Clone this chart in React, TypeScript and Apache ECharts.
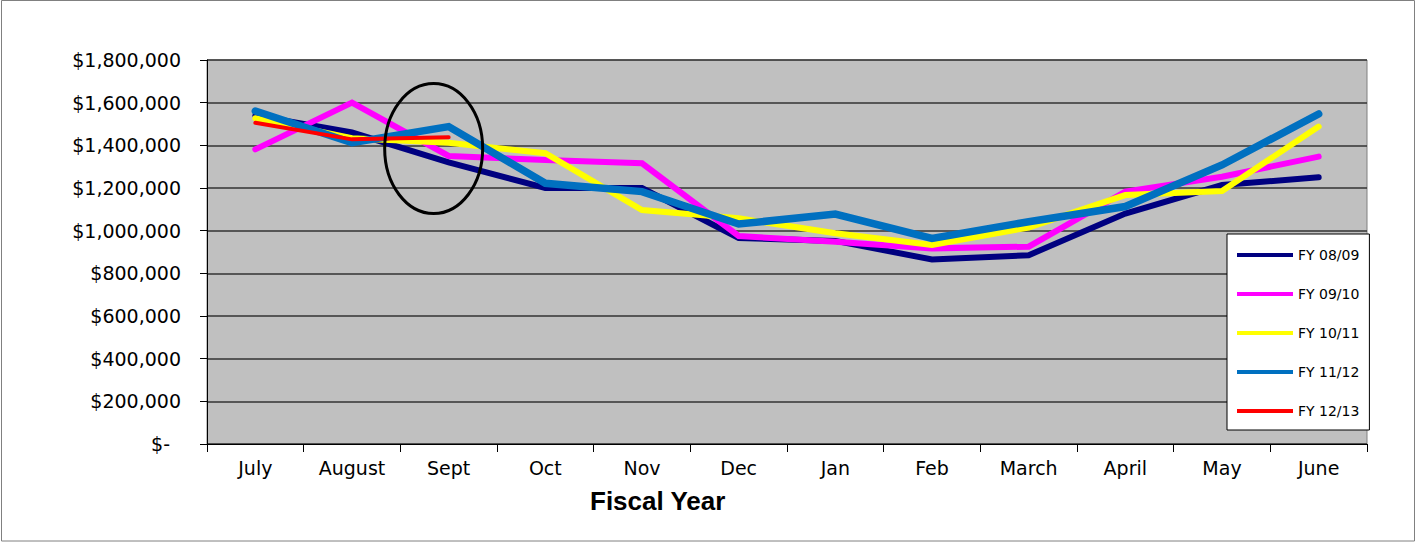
import React, { useEffect, useRef } from "react";
import * as echarts from "echarts";

const months = ["July", "August", "Sept", "Oct", "Nov", "Dec", "Jan", "Feb", "March", "April", "May", "June"];
const fy0809 = [1540000, 1460000, 1320000, 1200000, 1200000, 966000, 952000, 865000, 885000, 1080000, 1214000, 1250000];
const fy0910 = [1381000, 1600000, 1350000, 1331000, 1316000, 975000, 948000, 917000, 925000, 1183000, 1253000, 1347000];
const fy1011 = [1527000, 1433000, 1412000, 1363000, 1097000, 1058000, 988000, 933000, 1015000, 1167000, 1186000, 1488000];
const fy1112 = [1561000, 1412000, 1488000, 1222000, 1183000, 1031000, 1078000, 964000, 1042000, 1113000, 1308000, 1547000];
const fy1213 = [1506000, 1428000, 1438000];
const seriesNames = ["FY 08/09", "FY 09/10", "FY 10/11", "FY 11/12", "FY 12/13"];
const yTicks = { min: 0, max: 1800000, interval: 200000 };

const fmtMoney = (v: number) => {
  if (v === 0) return "{z|$-}";
  return "$" + v.toLocaleString("en-US");
};

export default function App() {
  const ref = useRef<HTMLDivElement>(null);
  useEffect(() => {
    document.body.style.margin = "0";
    if (!ref.current) return;
    const chart = echarts.init(ref.current, null, { renderer: "svg" });
    const font = "DejaVu Sans";
    const mk = (name: string, data: number[], color: string, width: number, z: number) => ({
      name,
      type: "line",
      data,
      symbol: "none",
      z,
      lineStyle: { color, width, cap: "round", join: "miter" },
      itemStyle: { color },
    });
    chart.setOption({
      animation: false,
      backgroundColor: "#ffffff",
      grid: {
        left: 207,
        right: 49,
        top: 60,
        bottom: 99,
        show: true,
        backgroundColor: "#C0C0C0",
        borderColor: "#808080",
        borderWidth: 1,
      },
      legend: {
        orient: "vertical",
        left: 1227,
        top: 234,
        icon: "rect",
        itemWidth: 56,
        itemHeight: 4,
        itemGap: 25,
        padding: [14, 10, 12, 10],
        backgroundColor: "#ffffff",
        borderColor: "#000000",
        borderWidth: 1,
        borderRadius: 0,
        textStyle: { fontFamily: font, fontSize: 14, color: "#000", lineHeight: 14 },
        data: seriesNames,
      },
      xAxis: {
        type: "category",
        data: months,
        boundaryGap: true,
        axisLine: { lineStyle: { color: "#000", width: 1 } },
        axisTick: { show: true, length: 8, lineStyle: { color: "#000" } },
        axisLabel: { fontFamily: font, fontSize: 19, color: "#000", margin: 14 },
        splitLine: { show: false },
      },
      yAxis: {
        type: "value",
        min: yTicks.min,
        max: yTicks.max,
        interval: yTicks.interval,
        axisLine: { show: true, lineStyle: { color: "#000", width: 1 } },
        axisTick: { show: true, length: 7, lineStyle: { color: "#000" } },
        axisLabel: {
          fontFamily: font,
          fontSize: 19,
          color: "#000",
          margin: 26,
          formatter: fmtMoney,
          rich: { z: { fontFamily: font, fontSize: 19, color: "#000", padding: [0, 11, 0, 0] } },
        },
        splitLine: { show: true, lineStyle: { color: "#333333", width: 1.5 } },
      },
      series: [
        mk(seriesNames[0], fy0809, "#000080", 6, 2),
        mk(seriesNames[1], fy0910, "#FF00FF", 6, 3),
        mk(seriesNames[2], fy1011, "#FFFF00", 6, 4),
        mk(seriesNames[3], fy1112, "#0070C0", 7.5, 5),
        mk(seriesNames[4], fy1213, "#FF0000", 4, 6),
      ],
    });
    const c = chart.convertToPixel({ gridIndex: 0 }, ["Sept", 1385000]) as number[];
    chart.setOption({
      graphic: [
        {
          type: "ellipse",
          shape: { cx: c[0] - 15, cy: c[1], rx: 49, ry: 65 },
          style: { fill: "none", stroke: "#000", lineWidth: 3 },
          z: 100,
        },
        {
          type: "text",
          left: 590,
          top: 488,
          style: { text: "Fiscal Year", fontFamily: "Liberation Sans", fontWeight: "bold", fontSize: 26, fill: "#000" },
        },
        {
          type: "rect",
          shape: { x: 1.5, y: 0.5, width: 1413, height: 540.5 },
          style: { fill: "none", stroke: "#808080", lineWidth: 1 },
          silent: true,
        },
      ],
    });
    return () => chart.dispose();
  }, []);
  return <div ref={ref} style={{ width: 1416, height: 543 }} />;
}
